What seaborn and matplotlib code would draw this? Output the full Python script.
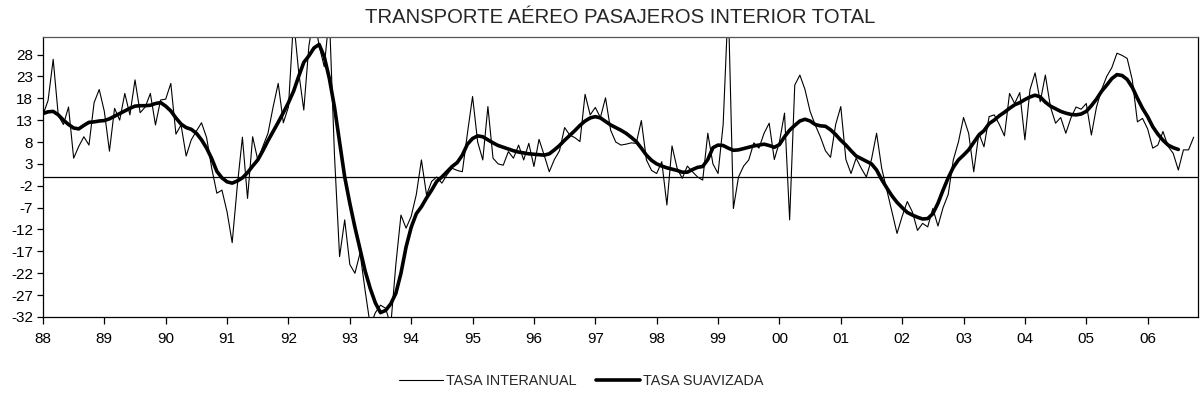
import numpy as np
import pandas as pd
import matplotlib
matplotlib.use("Agg")
import matplotlib.pyplot as plt
import seaborn as sns

# Monthly year-on-year growth of domestic air passengers, Jan 1988 - Oct 2006
start_year = 1988
tasa_interanual = [
    14.2, 17.5, 26.9, 14.0, 12.0, 16.0, 4.3, 7.0, 9.2, 7.3, 17.0, 20.0,
    15.0, 5.9, 15.7, 13.0, 19.1, 14.2, 22.2, 14.7, 16.0, 19.1, 11.9, 17.6,
    17.8, 21.4, 9.8, 11.9, 4.8, 8.5, 10.5, 12.4, 9.0, 2.0, -3.7, -3.0,
    -8.0, -15.0, -2.0, 9.1, -4.9, 9.2, 3.9, 7.0, 10.0, 16.0, 21.4, 12.4,
    16.0, 36.0, 24.0, 15.3, 30.0, 37.0, 30.0, 25.2, 37.0, 5.0, -18.2, -9.8,
    -20.0, -22.0, -17.4, -26.0, -34.0, -31.0, -29.3, -30.0, -34.0, -20.0, -8.7, -11.7,
    -9.0, -4.0, 3.9, -4.1, -1.0, 0.0, -1.4, 0.5, 2.0, 1.5, 1.2, 10.0,
    18.4, 8.0, 3.9, 16.1, 4.3, 3.0, 2.7, 5.8, 4.3, 7.3, 3.9, 7.7,
    2.4, 8.6, 5.0, 1.2, 4.0, 6.0, 11.3, 9.6, 9.0, 8.1, 18.9, 14.2,
    15.9, 13.6, 18.1, 10.7, 8.0, 7.3, 7.5, 7.8, 7.7, 12.9, 3.9, 1.5,
    0.8, 3.5, -6.4, 7.1, 2.0, -0.3, 2.5, 1.2, 0.0, -0.7, 10.0, 3.0,
    0.8, 12.0, 40.0, -7.2, 0.0, 2.5, 3.9, 7.8, 6.6, 10.0, 12.3, 4.0,
    8.0, 14.6, -9.8, 21.0, 23.3, 20.0, 15.0, 11.9, 9.2, 6.0, 4.5, 12.0,
    16.1, 4.0, 0.8, 4.3, 2.0, 0.0, 4.0, 10.0, 2.0, -3.0, -8.0, -12.9,
    -9.0, -5.6, -8.0, -12.2, -10.6, -11.4, -7.2, -11.2, -7.0, -4.0, 3.9, 8.0,
    13.6, 10.0, 1.2, 10.0, 6.9, 13.8, 14.2, 12.0, 9.4, 19.1, 16.8, 19.3,
    8.5, 20.0, 23.8, 17.2, 23.3, 16.0, 12.3, 13.6, 10.0, 13.5, 16.0, 15.5,
    16.8, 9.6, 16.0, 20.0, 23.0, 25.0, 28.3, 27.8, 27.1, 22.2, 12.6, 13.4,
    11.0, 6.6, 7.3, 10.4, 7.0, 5.4, 1.6, 6.2, 6.2, 9.1,
]

tasa_suavizada = [
    14.5, 14.9, 15.0, 14.2, 13.0, 12.0, 11.2, 11.0, 11.8, 12.5, 12.6, 12.8,
    12.9, 13.3, 13.9, 14.5, 15.1, 15.7, 16.2, 16.3, 16.3, 16.4, 16.8, 17.0,
    16.2, 15.1, 13.5, 12.1, 11.3, 10.9, 10.0, 8.5, 6.6, 4.2, 1.3, -0.2,
    -1.1, -1.4, -0.9, -0.2, 1.0, 2.5, 3.9, 6.0, 8.3, 10.4, 12.5, 14.7,
    17.0, 19.6, 23.0, 26.2, 27.7, 29.5, 30.3, 27.5, 22.5, 16.0, 8.0, 0.0,
    -6.0, -11.5, -16.5, -21.5, -25.5, -28.8, -31.0, -30.5, -29.0, -26.6, -22.0, -16.0,
    -11.5, -8.4, -6.8, -4.8, -3.0, -1.0, 0.0, 1.2, 2.4, 3.3, 5.0, 7.5,
    8.8, 9.4, 9.2, 8.5, 7.8, 7.2, 6.8, 6.4, 6.0, 5.7, 5.5, 5.3,
    5.2, 5.1, 5.0, 5.3, 6.2, 7.2, 8.4, 9.5, 10.6, 11.8, 12.8, 13.5,
    13.8, 13.5, 12.7, 11.9, 11.3, 10.7, 10.0, 9.1, 8.1, 6.6, 5.0, 3.8,
    3.0, 2.5, 2.1, 1.8, 1.5, 1.1, 1.1, 1.7, 2.2, 2.4, 4.0, 6.7,
    7.3, 7.2, 6.6, 6.1, 6.2, 6.5, 6.8, 7.1, 7.3, 7.5, 7.2, 6.8,
    7.4, 9.2, 10.7, 11.8, 12.8, 13.2, 12.8, 12.0, 11.7, 11.6, 10.8, 9.7,
    8.4, 7.3, 6.0, 4.8, 4.2, 3.6, 3.0, 1.6, -0.6, -2.5, -4.3, -5.8,
    -7.0, -8.1, -8.7, -9.2, -9.6, -9.5, -8.4, -6.0, -3.0, -0.2, 2.2, 3.9,
    5.0, 6.2, 7.9, 9.6, 10.6, 12.2, 13.0, 14.0, 14.8, 15.7, 16.5, 17.0,
    17.7, 18.3, 18.7, 18.3, 17.1, 16.2, 15.6, 15.0, 14.6, 14.3, 14.2, 14.4,
    15.0, 16.3, 17.8, 19.6, 21.0, 22.5, 23.4, 23.2, 22.3, 20.5, 18.0, 15.7,
    13.8, 11.5, 9.8, 8.4, 7.3, 6.7, 6.3,
]

year_labels = ["88", "89", "90", "91", "92", "93", "94", "95", "96", "97",
               "98", "99", "00", "01", "02", "03", "04", "05", "06"]
y_ticks = [-32, -27, -22, -17, -12, -7, -2, 3, 8, 13, 18, 23, 28]

sns.set_theme(style="white")
plt.rcParams["font.family"] = ["Liberation Sans", "DejaVu Sans"]

t_int = start_year + np.arange(len(tasa_interanual)) / 12.0
t_suav = start_year + np.arange(len(tasa_suavizada)) / 12.0
df_int = pd.DataFrame({"t": t_int, "v": tasa_interanual})
df_suav = pd.DataFrame({"t": t_suav, "v": tasa_suavizada})

fig = plt.figure(figsize=(12, 4.01), dpi=100)
ax = fig.add_axes([0.0358, 0.2095, 0.9625, 0.6982])

ax.axhline(0, color="black", lw=0.9, zorder=1)
sns.lineplot(data=df_int, x="t", y="v", ax=ax, color="black", lw=0.8,
             label="TASA INTERANUAL", zorder=2)
sns.lineplot(data=df_suav, x="t", y="v", ax=ax, color="black", lw=2.6,
             label="TASA SUAVIZADA", zorder=3)

ax.set_xlim(start_year, start_year + 18.82)
ax.set_ylim(-32, 32)
ax.set_yticks(y_ticks)
ax.set_yticklabels([str(v) for v in y_ticks])
ax.set_xticks([start_year + k for k in range(len(year_labels))])
ax.set_xticklabels(year_labels)
ax.set_xlabel("")
ax.set_ylabel("")
ax.tick_params(axis="both", which="major", labelsize=11, colors="black",
               direction="out", length=4, width=0.9, pad=3, bottom=True, left=True)
ax.tick_params(axis="x", length=5, pad=6)
for side in ["left", "bottom", "right", "top"]:
    ax.spines[side].set_visible(True)
    ax.spines[side].set_color("black")
    ax.spines[side].set_linewidth(0.9)
ax.spines["top"].set_color("#555555")
ax.grid(False)

ax.set_title("TRANSPORTE AÉREO PASAJEROS INTERIOR TOTAL", fontsize=14.6, pad=10)

leg = ax.legend(loc="lower center", bbox_to_anchor=(0.466, -0.30), ncol=2,
                frameon=False, fontsize=10.4, handlelength=3.1, handletextpad=0.2,
                columnspacing=1.3)

fig.savefig("out.png", dpi=100, facecolor="white")
